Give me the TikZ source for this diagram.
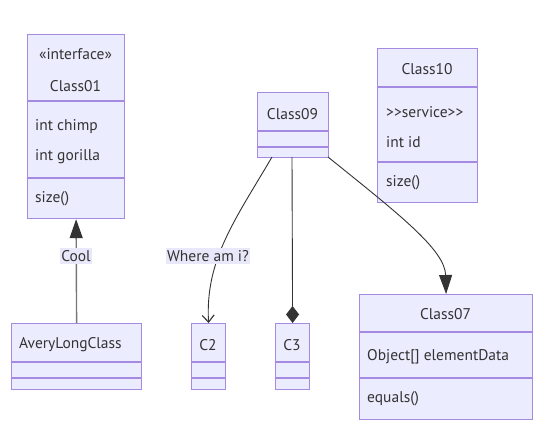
\documentclass[tikz,border=0pt]{standalone}
\usepackage{fontspec}
\setmainfont{PT Sans}[Ligatures=TeXOff]
\usetikzlibrary{arrows.meta}
\definecolor{umlstroke}{HTML}{A58AE3}
\definecolor{umlfill}{HTML}{ECECFF}
\definecolor{textc}{HTML}{333333}
\definecolor{edgec}{HTML}{333333}
\definecolor{edgegray}{HTML}{777777}
\definecolor{labelbg}{HTML}{E8E8FA}
\tikzset{
  cls/.style={draw=umlstroke, fill=umlfill, line width=1.2pt, inner sep=0pt, anchor=north west},
  divline/.style={draw=umlstroke, line width=1.2pt},
  txt/.style={text=textc, font=\fontsize{15.5}{18}\selectfont, inner sep=0pt},
  ltxt/.style={txt, anchor=west},
  edgelab/.style={txt, fill=labelbg, inner xsep=1pt, inner ysep=2pt},
  conn/.style={draw=edgec, line width=0.9pt},
}
\begin{document}
\begin{tikzpicture}[x=1pt,y=-1pt]
\useasboundingbox (0,0) rectangle (548,442);
% Class01
\node[cls, minimum width=97pt, minimum height=184pt] (c01) at (27,34) {};
\draw[divline] (27,101) -- (124,101);
\draw[divline] (27,178) -- (124,178);
\node[txt] (c01s) at (75.5,54) {«interface»};
\node[txt] (c01n) at (75.5,86) {Class01};
\node[ltxt] (c01a) at (35,127) {int chimp};
\node[ltxt] (c01b) at (35,157) {int gorilla};
\node[ltxt] (c01m) at (35,199) {size()};
% Class09
\node[cls, minimum width=71pt, minimum height=65pt] (c09) at (257,92) {};
\draw[divline] (257,131) -- (328,131);
\draw[divline] (257,147) -- (328,147);
\node[txt] (c09n) at (292.5,114) {Class09};
% Class10
\node[cls, minimum width=100pt, minimum height=154pt] (c10) at (377,48) {};
\draw[divline] (377,87) -- (477,87);
\draw[divline] (377,162) -- (477,162);
\node[txt] (c10n) at (427,69) {Class10};
\node[ltxt] (c10s) at (386,112) {>>service>>};
\node[ltxt] (c10a) at (386,142) {int id};
\node[ltxt] (c10m) at (386,183) {size()};
% AveryLongClass
\node[cls, minimum width=130pt, minimum height=66pt] (alc) at (11,323) {};
\draw[divline] (11,362) -- (141,362);
\draw[divline] (11,378) -- (141,378);
\node[ltxt] (alcn) at (19,345) {AveryLongClass};
% C2
\node[cls, minimum width=34pt, minimum height=66pt] (c2) at (191,323) {};
\draw[divline] (191,362) -- (225,362);
\draw[divline] (191,378) -- (225,378);
\node[txt] (c2n) at (208,345) {C2};
% C3
\node[cls, minimum width=34pt, minimum height=66pt] (c3) at (275,323) {};
\draw[divline] (275,362) -- (309,362);
\draw[divline] (275,378) -- (309,378);
\node[txt] (c3n) at (292,345) {C3};
% Class07
\node[cls, minimum width=173pt, minimum height=125pt] (c07) at (359,294) {};
\draw[divline] (359,332) -- (532,332);
\draw[divline] (359,378) -- (532,378);
\node[txt] (c07n) at (445.5,314) {Class07};
\node[ltxt] (c07a) at (367,357) {Object[] elementData};
\node[ltxt] (c07m) at (367,399) {equals()};
% connectors
\coordinate (s2) at (272,157);
\coordinate (s3) at (292,157);
\coordinate (s4) at (328,157);
\draw[draw=edgegray, line width=1.4pt, -{Triangle[width=13pt,length=19pt,color=edgec]}] (alc.north) -- (c01.south);
\node[edgelab] (lcool) at (76,256) {Cool};
\draw[conn, -{Straight Barb[width=12pt,length=7pt,line width=1.1pt]}] (s2) .. controls (235,220) and (205,260) .. (c2.north);
\node[edgelab] (lwhere) at (208,256) {Where am i?};
\draw[conn, -{Diamond[width=13pt,length=17pt]}] (s3) -- (c3.north);
\draw[conn, -{Triangle[width=13pt,length=19pt]}] (s4) .. controls (400,215) and (445,250) .. (c07.north);
\end{tikzpicture}
\end{document}
